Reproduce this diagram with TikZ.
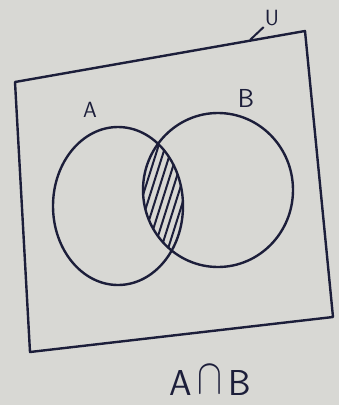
\documentclass[tikz,border=0pt]{standalone}
\usepackage{amsmath,amssymb}
\usepackage{tikz}
\usetikzlibrary{positioning}
\definecolor{ink}{RGB}{28,30,58}
\definecolor{paper}{RGB}{216,216,212}
\begin{document}
\begin{tikzpicture}[
  x=1pt, y=-1pt,
  ink/.style={draw=ink, line width=2.4pt, line join=round},
  hatch/.style={draw=ink, line width=2pt, line cap=round},
  lbl/.style={text=ink, font=\sffamily\fontsize{22}{24}\selectfont, inner sep=1pt}]
  \fill[paper] (0,0) rectangle (339,405);
  \useasboundingbox (0,0) rectangle (339,405);
  %  -- - universal set  -- -
  \draw[ink] (15,82) -- (305,31) -- (333,317) -- (30,352) -- cycle;
  \node[lbl] (u) at (272,18) {U};
  \coordinate (ut) at (250,40);
  \draw[ink, line width=2pt] (ut) -- (u.south west);
  %  -- - sets A and B  -- -
  \draw[ink] (118,206) ellipse [x radius=65, y radius=79];
  \draw[ink] (218,190) ellipse [x radius=75, y radius=77];
  \node[lbl] (a) at (90,110) {A};
  \node[lbl, font=\sffamily\fontsize{26}{28}\selectfont] (b) at (246,98) {B};
  %  -- - shaded A cap B  -- -
  \begin{scope}
    \clip (118,206) ellipse [x radius=65, y radius=79];
    \clip (218,190) ellipse [x radius=75, y radius=77];
    \foreach \k in {0,...,17}
      \draw[hatch] (85+7*\k,290) -- +(60,-190);
  \end{scope}
  \node[lbl, font=\sffamily\fontsize{36}{38}\selectfont] (ab) at (210,381)
    {A\,\raisebox{0.05em}{\scalebox{1.5}[2]{$\cap$}}\,B};
\end{tikzpicture}
\end{document}
